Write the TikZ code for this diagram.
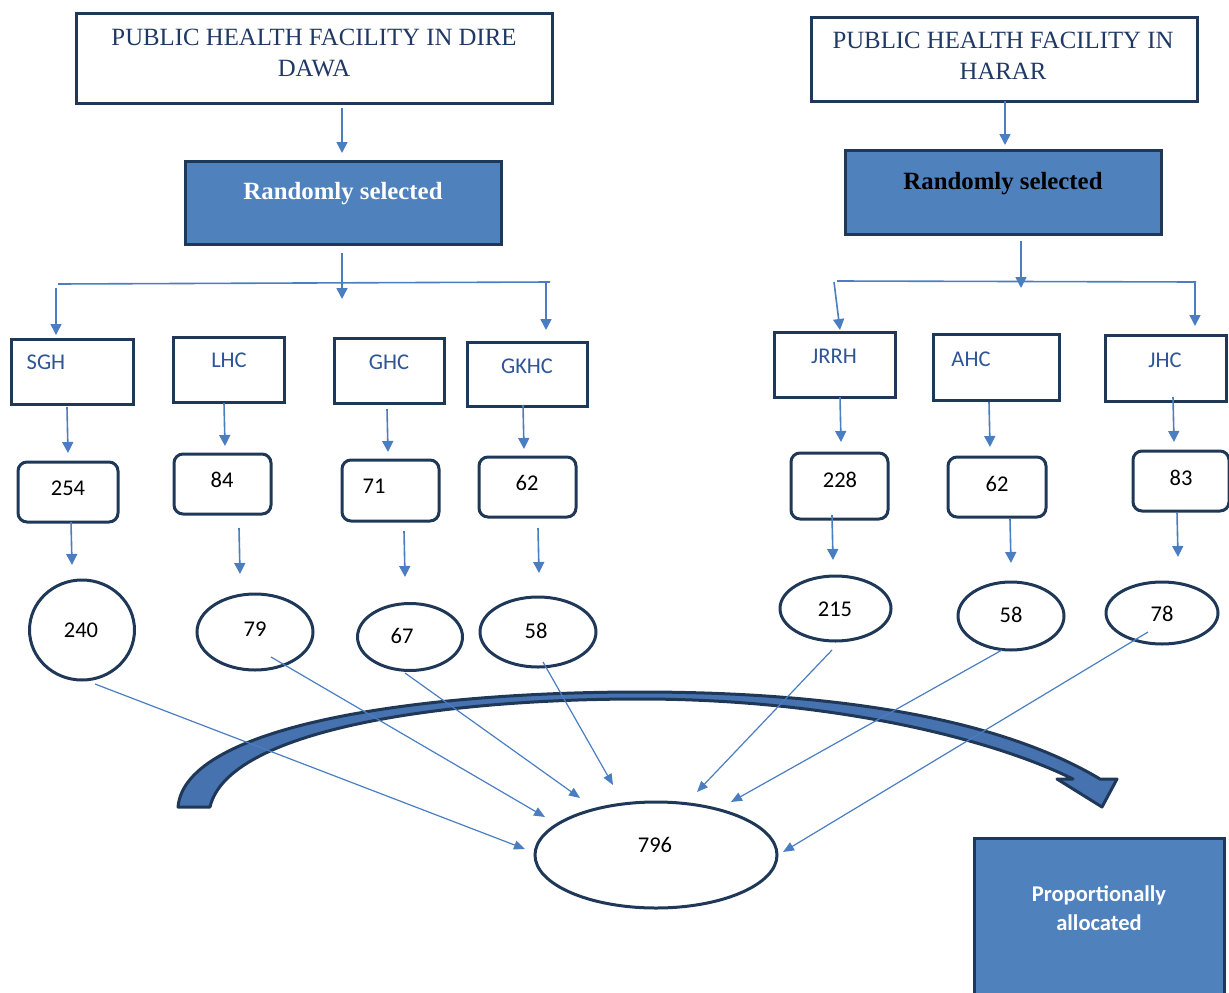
\documentclass[tikz,border=0pt]{standalone}
\usepackage{fontspec}
\setmainfont{Liberation Serif}
\newfontfamily\calfont{Carlito}
\usetikzlibrary{arrows.meta,calc,shapes.geometric}
\definecolor{navy}{HTML}{1F3858}
\definecolor{boxblue}{HTML}{4F81BD}
\definecolor{lineblue}{HTML}{4A7EC1}
\definecolor{titleblue}{HTML}{1F3864}
\definecolor{lblblue}{HTML}{2E5597}
\definecolor{arcblue}{HTML}{4672B0}
\begin{document}
\begin{tikzpicture}[x=1pt,y=-1pt,
  outline/.style={draw=navy,line width=3pt,inner sep=0pt},
  titlebox/.style={outline,rectangle,fill=white},
  selbox/.style={outline,rectangle,fill=boxblue},
  facbox/.style={outline,rectangle},
  numbox/.style={outline,rectangle,rounded corners=9pt},
  numell/.style={outline,ellipse},
  titletext/.style={font=\fontsize{24.8}{31}\selectfont,text=titleblue,align=center,anchor=north,inner sep=0pt},
  seltext/.style={font=\fontsize{24.8}{29}\selectfont\bfseries,anchor=base,inner sep=0pt},
  lbl/.style={font=\calfont\fontsize{22.5}{26}\selectfont,text=lblblue,anchor=base,inner sep=0pt},
  num/.style={font=\calfont\fontsize{22.5}{26}\selectfont,text=black,anchor=base,inner sep=0pt},
  proptext/.style={font=\calfont\bfseries\fontsize{22.5}{29}\selectfont,text=white,align=center,anchor=north,inner sep=0pt},
  arr/.style={draw=lineblue,line width=1.6pt,-{Triangle[length=11pt,width=11pt]}},
  feed/.style={draw=lineblue,line width=1.2pt,-{Triangle[length=11pt,width=9pt]}},
  rule/.style={draw=lineblue,line width=1.6pt},
  curvearrow/.style={draw=navy,line width=3pt,fill=arcblue,line join=round},
]
\useasboundingbox (0,0) rectangle (1229,993);

% curved block arrow (drawn first, underneath)
\draw[curvearrow] (178,807) .. controls (185,725) and (420,692) .. (640,692)
  .. controls (860,692) and (1010,725) .. (1100,779)
  -- (1117,779) -- (1102,807) -- (1057,779) -- (1073,779)
  .. controls (990,738) and (830,699) .. (640,699)
  .. controls (440,699) and (228,730) .. (210,807) -- cycle;

% ---------- Dire Dawa ----------
\node[titlebox,minimum width=476pt,minimum height=90pt] (dd) at (314,58) {};
\node[titletext] (ddt) at (314,28.5) {PUBLIC HEALTH FACILITY IN DIRE\\DAWA};
\node[selbox,minimum width=316pt,minimum height=83pt] (selL) at (343,202.5) {};
\node[seltext,text=white] (selLt) at (343,199) {Randomly selected};

\node[facbox,minimum width=122pt,minimum height=65pt] (sgh) at (72,371.5) {};
\node[lbl] (sght) at (46,369) {SGH};
\node[facbox,minimum width=111pt,minimum height=65pt] (lhc) at (228.5,369.5) {};
\node[lbl] (lhct) at (229,367) {LHC};
\node[facbox,minimum width=110pt,minimum height=65pt] (ghc) at (389,370.5) {};
\node[lbl] (ghct) at (389,369) {GHC};
\node[facbox,minimum width=120pt,minimum height=64pt] (gkhc) at (527,374) {};
\node[lbl] (gkhct) at (527,373) {GKHC};

\node[numbox,minimum width=100pt,minimum height=60pt] (n254) at (68,492) {};
\node[num] (n254t) at (68,495) {254};
\node[numbox,minimum width=97pt,minimum height=60pt] (n84) at (222.5,484) {};
\node[num] (n84t) at (222,487) {84};
\node[numbox,minimum width=97pt,minimum height=61pt] (n71) at (390.5,490.5) {};
\node[num] (n71t) at (374,493) {71};
\node[numbox,minimum width=97pt,minimum height=60pt] (n62) at (527.5,487) {};
\node[num] (n62t) at (527,490) {62};

\node[numell,minimum width=105pt,minimum height=100pt] (e240) at (82,630) {};
\node[num] (e240t) at (81,637) {240};
\node[numell,minimum width=116pt,minimum height=76pt] (e79) at (255,632) {};
\node[num] (e79t) at (255,636) {79};
\node[numell,minimum width=105pt,minimum height=67pt] (e67) at (410,637) {};
\node[num] (e67t) at (402,643) {67};
\node[numell,minimum width=116pt,minimum height=70pt] (e58) at (538,632) {};
\node[num] (e58t) at (536,638) {58};

% ---------- Harar ----------
\node[titlebox,minimum width=386pt,minimum height=84pt] (hr) at (1004,59) {};
\node[titletext] (hrt) at (1003,32) {PUBLIC HEALTH FACILITY IN\\HARAR};
\node[selbox,minimum width=316pt,minimum height=84pt] (selR) at (1003,192) {};
\node[seltext,text=black] (selRt) at (1003,189) {Randomly selected};

\node[facbox,minimum width=121pt,minimum height=65pt] (jrrh) at (834.5,364.5) {};
\node[lbl] (jrrht) at (834,363) {JRRH};
\node[facbox,minimum width=126pt,minimum height=66pt] (ahc) at (996,367) {};
\node[lbl] (ahct) at (971,366) {AHC};
\node[facbox,minimum width=121pt,minimum height=66pt] (jhc) at (1165.5,368) {};
\node[lbl] (jhct) at (1165,367) {JHC};

\node[numbox,minimum width=97pt,minimum height=66pt] (n228) at (839.5,486) {};
\node[num] (n228t) at (840,487) {228};
\node[numbox,minimum width=98pt,minimum height=60pt] (n62r) at (997,487) {};
\node[num] (n62rt) at (997,491) {62};
\node[numbox,minimum width=96pt,minimum height=60pt] (n83) at (1181,481) {};
\node[num] (n83t) at (1181,485) {83};

\node[numell,minimum width=111pt,minimum height=65pt] (e215) at (835.5,608.5) {};
\node[num] (e215t) at (835,616) {215};
\node[numell,minimum width=106pt,minimum height=68pt] (e58r) at (1011,616) {};
\node[num] (e58rt) at (1011,622) {58};
\node[numell,minimum width=112pt,minimum height=62pt] (e78) at (1162,613) {};
\node[num] (e78t) at (1162,621) {78};

% ---------- total and allocation ----------
\node[numell,fill=white,minimum width=242pt,minimum height=106pt] (tot) at (656,855) {};
\node[num] (tott) at (655,852) {796};
\node[selbox,minimum width=250pt,minimum height=170pt] (prop) at (1099,923) {};
\node[proptext] (propt) at (1099,885) {Proportionally\\allocated};

% ---------- connectors, Dire Dawa ----------
\coordinate (hl1) at (58,284);
\coordinate (hl2) at (550,282);
\coordinate (jL) at (342,299);
\draw[arr] ($(dd)+(28,50)$) -- ($(selL)+(-1,-49.5)$);
\draw[arr] ($(selL)+(-1,50.5)$) -- (jL);
\draw[rule] (hl1) -- (hl2);
\draw[arr] ($(hl1)+(-2,4)$) -- ($(sgh)+(-16,-36.5)$);
\draw[arr] ($(hl2)+(-4,1)$) -- ($(gkhc)+(19,-44)$);

\draw[arr] ($(sgh)+(-5,35.5)$) -- ($(n254)+(0,-39)$);
\draw[arr] ($(lhc)+(-4.5,33.5)$) -- ($(n84)+(2.5,-38)$);
\draw[arr] ($(ghc)+(-2,38.5)$) -- ($(n71)+(-2.5,-38.5)$);
\draw[arr] ($(gkhc)+(-4,31)$) -- ($(n62)+(-3.5,-38)$);

\draw[arr] ($(n254)+(3,30)$) -- ($(e240)+(-10,-65)$);
\draw[arr] ($(n84)+(16.5,44)$) -- ($(e79)+(-15,-58)$);
\draw[arr] ($(n71)+(13.5,40.5)$) -- ($(e67)+(-5,-60)$);
\draw[arr] ($(n62)+(10.5,41)$) -- ($(e58)+(1,-59)$);

% ---------- connectors, Harar ----------
\coordinate (hr1) at (837,281);
\coordinate (hr2) at (1196,282);
\coordinate (jR) at (1021,288);
\draw[arr] ($(hr)+(1,42)$) -- ($(selR)+(2,-47)$);
\draw[arr] ($(selR)+(18,49)$) -- (jR);
\draw[rule] (hr1) -- (hr2);
\draw[arr] ($(hr1)+(-3,1)$) -- ($(jrrh)+(5.5,-34.5)$);
\draw[arr] ($(hr2)+(-1,0)$) -- ($(jhc)+(29.5,-42)$);

\draw[arr] ($(jrrh)+(5.5,32.5)$) -- ($(n228)+(1.5,-44)$);
\draw[arr] ($(ahc)+(-7,35)$) -- ($(n62r)+(-7,-40)$);
\draw[arr] ($(jhc)+(7.5,29)$) -- ($(n83)+(-7,-39)$);

\draw[arr] ($(n228)+(-7.5,29)$) -- ($(e215)+(-2.5,-48.5)$);
\draw[arr] ($(n62r)+(13,32)$) -- ($(e58r)+(0,-53)$);
\draw[arr] ($(n83)+(-4,31)$) -- ($(e78)+(16,-56)$);

% ---------- feeds into the total ----------
\draw[feed] ($(e240)+(13,54)$) -- ($(tot)+(-131,-6)$);
\draw[feed] ($(e79)+(16,25)$) -- ($(tot)+(-111,-38)$);
\draw[feed] ($(e67)+(-5,36)$) -- ($(tot)+(-76,-57)$);
\draw[feed] ($(e58)+(5,30)$) -- ($(tot)+(-43,-70)$);
\draw[feed] ($(e215)+(-3.5,41.5)$) -- ($(tot)+(41,-63)$);
\draw[feed] ($(e58r)+(-9,34)$) -- ($(tot)+(75,-53)$);
\draw[feed] ($(e78)+(-14,19)$) -- ($(tot)+(127,-3)$);
\end{tikzpicture}
\end{document}
